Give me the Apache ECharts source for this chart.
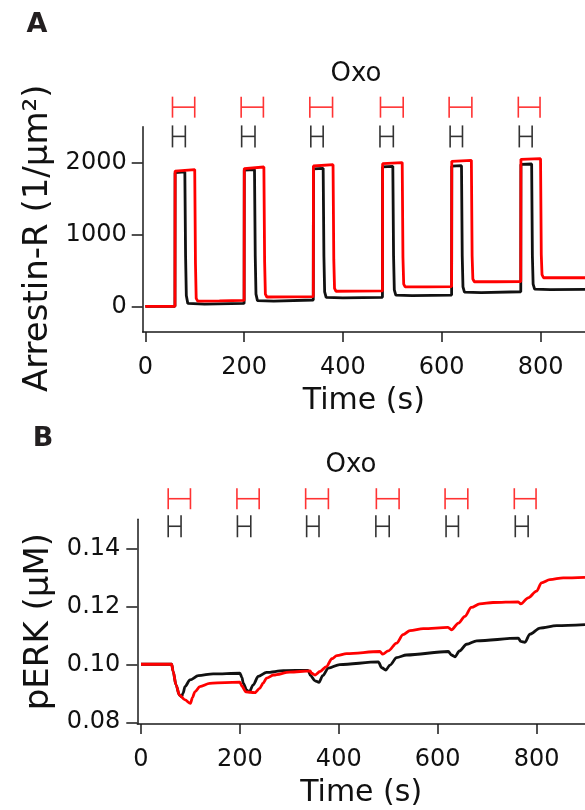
<!DOCTYPE html>
<html>
<head>
<meta charset="utf-8">
<script src="https://cdn.jsdelivr.net/npm/echarts@6/dist/echarts.min.js"></script>
<style>html,body{margin:0;padding:0;background:#fff}#c{width:585px;height:810px}</style>
</head>
<body>
<div id="c"></div>
<script>
// ---- Data ----
const xTicks = [0, 200, 400, 600, 800];
const yTicksA = [0, 1000, 2000];
const yTicksB = [0.08, 0.10, 0.12, 0.14];

// Panel A: Arrestin-R (1/µm²) vs time (s)
const arrestinBlack = [
  [0,0],[60,0],[60.3,1860],[80,1870],[81.5,700],[83,150],[86,40],[120,30],[200,40],
  [200.3,1895],[221,1903],[222.5,700],[224,170],[227,80],[260,72],[340,88],
  [340.3,1912],[360,1921],[361.5,700],[363,200],[366,125],[400,118],[480,125],
  [480.3,1940],[501,1949],[502.5,700],[504,230],[507,155],[540,148],[620,157],
  [620.3,1950],[640,1958],[641.5,700],[643,270],[646,198],[680,190],[760,203],
  [760.3,1975],[782,1981],[783.5,700],[785,310],[788,240],[820,234],[900,238]
];
const arrestinRed = [
  [0,0],[60,0],[60.3,1883],[100,1903],[101.5,600],[103,110],[106,72],[150,76],[200,82],
  [200.3,1917],[240,1939],[241.5,620],[243,170],[246,130],[290,132],[340,136],
  [340.3,1953],[380,1972],[381.5,650],[383,250],[386,210],[430,211],[480,214],
  [480.3,1986],[520,2000],[521.5,680],[523,310],[526,272],[570,272],[620,275],
  [620.3,2018],[660,2032],[661.5,700],[663,380],[666,342],[710,342],[760,344],
  [760.3,2046],[800,2055],[801.5,720],[803,440],[806,398],[850,398],[900,398]
];

// Panel B: pERK (µM) vs time (s)
const perkBlack = [
  [0,0.100],[62,0.100],[65,0.0975],[70.8,0.0929],[77.5,0.0894],[82,0.0888],[85,0.0900],[89,0.0923],[99,0.0946],[116,0.0961],[146,0.0967],[200,0.0969],
  [204,0.0955],[207,0.0934],[213.7,0.0911],[219,0.0905],[227,0.0929],[237,0.0958],[254,0.0972],[288,0.0978],[338,0.0979],
  [343,0.0961],[352,0.0943],[360,0.0938],[367.5,0.0961],[379,0.0987],[402,0.0999],[480,0.1008],
  [487,0.0988],[495,0.0980],[503.5,0.0997],[517,0.1023],[537,0.1032],[621.5,0.1044],
  [628,0.1032],[635,0.1026],[644,0.1046],[658.5,0.1069],[679,0.1081],[763,0.1090],
  [768,0.1079],[776.5,0.1076],[786.6,0.1104],[807,0.1125],[840.7,0.1133],[898,0.1137]
];
const perkRed = [
  [0,0.100],[62,0.100],[65,0.0975],[70.8,0.0929],[77.5,0.0894],[89,0.0877],[100,0.0865],[104,0.0885],[109,0.0905],[119,0.0923],[139,0.0934],[170,0.0937],[200,0.0938],
  [204,0.0925],[212,0.0905],[230,0.0902],[240,0.0917],[247,0.0935],[254,0.0952],[268,0.0963],[301,0.0973],[342,0.0977],
  [345,0.0969],[352,0.0963],[362,0.0975],[375,0.0992],[386,0.1019],[396,0.1030],[416,0.1037],[483,0.1044],
  [489,0.1035],[500,0.1046],[517,0.1073],[530,0.1102],[544,0.1116],[571,0.1123],[621,0.1127],
  [628,0.1119],[642,0.1142],[655,0.1165],[668,0.1196],[685,0.1208],[712,0.1213],[763,0.1215],
  [768,0.1208],[783,0.1229],[800,0.1252],[810,0.1281],[827,0.1292],[854,0.1298],[898,0.1300]
];

// Oxo application intervals (s) shown as brackets
const oxoRed = [[55,100],[194,239],[333,379],[476,522],[615,661],[755,799]];
const oxoBlack = [[55,81],[195,222],[335,360],[475,502],[617,642],[757,783]];
// bracket levels in axis units
const bracketLevelA = { red: 2772, black: 2365 };
const bracketLevelB = { red: 0.1571, black: 0.1476 };

// ---- Chart ----
const FONT = '"DejaVu Sans", sans-serif';
const AX = '#1a1a1a';
const chart = echarts.init(document.getElementById('c'), null, { renderer: 'canvas' });

function xAxisDef(gridIndex, min, max) {
  return {
    type: 'value', gridIndex, min, max,
    name: 'Time (s)', nameLocation: 'middle', nameGap: 54,
    nameTextStyle: { fontFamily: FONT, fontSize: 30, color: '#111' },
    axisLine: { show: true, onZero: false, lineStyle: { color: AX, width: 1.5 } },
    axisTick: { show: true, length: 10, lineStyle: { color: AX, width: 1.5 }, customValues: xTicks },
    axisLabel: { fontFamily: FONT, fontSize: 24, color: '#111', margin: 24, customValues: xTicks,
      formatter: v => String(v) },
    splitLine: { show: false }
  };
}

function bracketSeries(xi, yi, data, level, color, halfH) {
  return {
    type: 'custom', xAxisIndex: xi, yAxisIndex: yi, clip: false, z: 5,
    data: data.map(d => [d[0], d[1], level]),
    renderItem: function (params, api) {
      const p1 = api.coord([api.value(0), api.value(2)]);
      const p2 = api.coord([api.value(1), api.value(2)]);
      const st = { stroke: color, lineWidth: 1.6 };
      return {
        type: 'group',
        children: [
          { type: 'line', shape: { x1: p1[0], y1: p1[1], x2: p2[0], y2: p2[1] }, style: st },
          { type: 'line', shape: { x1: p1[0], y1: p1[1] - halfH, x2: p1[0], y2: p1[1] + halfH }, style: st },
          { type: 'line', shape: { x1: p2[0], y1: p2[1] - halfH, x2: p2[0], y2: p2[1] + halfH }, style: st }
        ]
      };
    }
  };
}

function lineSeries(xi, yi, data, color, smooth) {
  return {
    type: 'line', xAxisIndex: xi, yAxisIndex: yi, data,
    showSymbol: false, symbol: 'none', smooth: smooth, smoothMonotone: 'x',
    lineStyle: { color, width: 2.8 }, z: 3
  };
}

const option = {
  animation: false,
  backgroundColor: '#fff',
  grid: [
    { left: 142.7, top: 126.7, right: 0, height: 205.3 },
    { left: 137.3, top: 519.3, right: 0, height: 204.7 }
  ],
  xAxis: [
    xAxisDef(0, -5.3, 890),
    xAxisDef(1, -7.5, 898)
  ],
  yAxis: [
    {
      type: 'value', gridIndex: 0, min: -357, max: 2500,
      name: 'Arrestin-R (1/\u03bcm\u00b2)', nameLocation: 'middle', nameGap: 80, nameRotate: 90,
      nameTextStyle: { fontFamily: FONT, fontSize: 34, color: '#111', padding: [0, 18, 0, 0] },
      axisLine: { show: true, onZero: false, lineStyle: { color: AX, width: 1.5 } },
      axisTick: { show: true, length: 11, lineStyle: { color: AX, width: 1.5 }, customValues: yTicksA },
      axisLabel: { fontFamily: FONT, fontSize: 24, color: '#111', margin: 16, customValues: yTicksA,
        formatter: v => String(v) },
      splitLine: { show: false }
    },
    {
      type: 'value', gridIndex: 1, min: 0.0794, max: 0.150,
      name: 'pERK (\u03bcM)', nameLocation: 'middle', nameGap: 74, nameRotate: 90,
      nameTextStyle: { fontFamily: FONT, fontSize: 34, color: '#111' },
      axisLine: { show: true, onZero: false, lineStyle: { color: AX, width: 1.5 } },
      axisTick: { show: true, length: 11, lineStyle: { color: AX, width: 1.5 }, customValues: yTicksB },
      axisLabel: { fontFamily: FONT, fontSize: 24, color: '#111', margin: 17, customValues: yTicksB,
        formatter: v => v.toFixed(2) },
      splitLine: { show: false }
    }
  ],
  graphic: [
    { type: 'text', x: 37, y: 25, style: { text: 'A', font: 'bold 27px "DejaVu Sans"', fill: '#231f20', align: 'center', verticalAlign: 'middle' } },
    { type: 'text', x: 43, y: 439, style: { text: 'B', font: 'bold 27px "DejaVu Sans"', fill: '#231f20', align: 'center', verticalAlign: 'middle' } },
    { type: 'text', x: 356, y: 74, style: { text: 'Oxo', font: '26px "DejaVu Sans"', fill: '#111', align: 'center', verticalAlign: 'middle' } },
    { type: 'text', x: 351, y: 465, style: { text: 'Oxo', font: '26px "DejaVu Sans"', fill: '#111', align: 'center', verticalAlign: 'middle' } }
  ],
  series: [
    lineSeries(0, 0, arrestinBlack, '#111111', false),
    lineSeries(0, 0, arrestinRed, '#ff0000', false),
    lineSeries(1, 1, perkBlack, '#111111', 0.3),
    lineSeries(1, 1, perkRed, '#ff0000', 0.3),
    bracketSeries(0, 0, oxoRed, bracketLevelA.red, '#ff3333', 10.5),
    bracketSeries(0, 0, oxoBlack, bracketLevelA.black, '#333333', 11),
    bracketSeries(1, 1, oxoRed, bracketLevelB.red, '#ff3333', 10.5),
    bracketSeries(1, 1, oxoBlack, bracketLevelB.black, '#333333', 11)
  ]
};
chart.setOption(option);
</script>
</body>
</html>
